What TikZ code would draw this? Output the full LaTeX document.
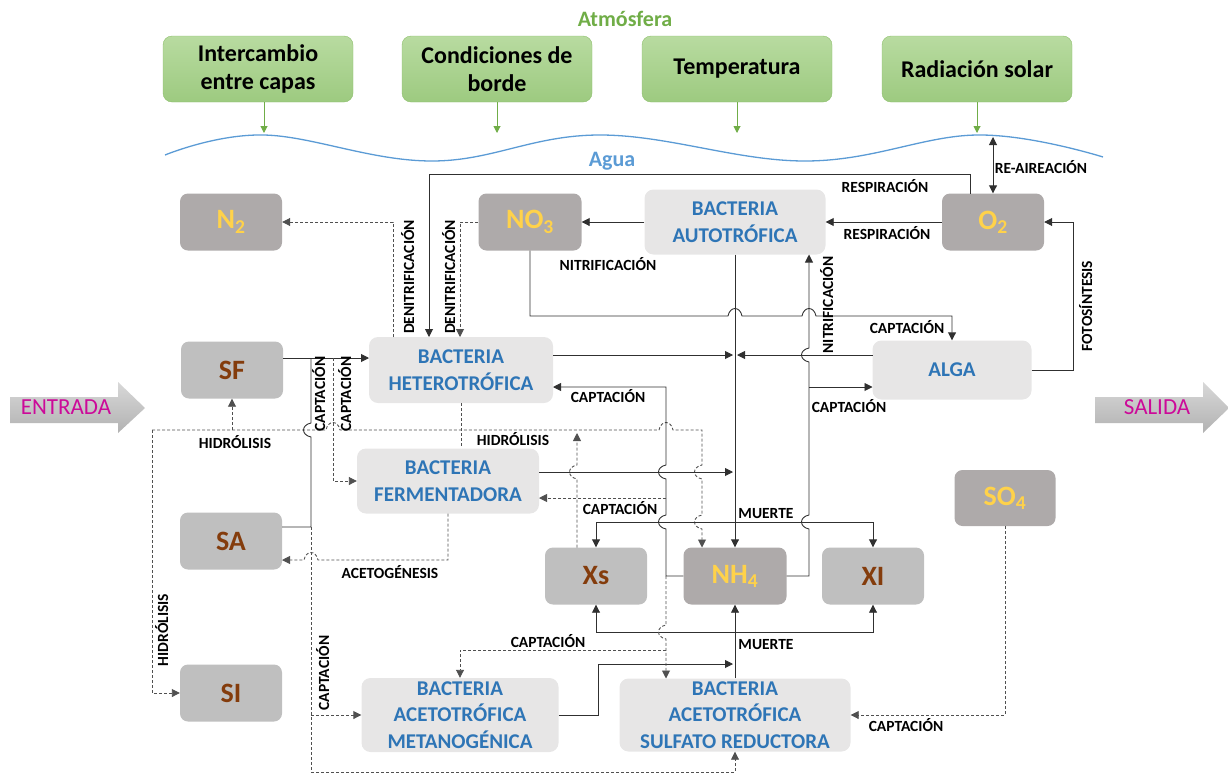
\documentclass[tikz,border=0pt]{standalone}
\usepackage{fontspec}
\setmainfont{Carlito}
\usetikzlibrary{arrows.meta}
\definecolor{lnc}{HTML}{303030}
\definecolor{dlc}{HTML}{505050}
\definecolor{grn}{HTML}{70AD47}
\definecolor{gtop}{HTML}{B8DBA0}
\definecolor{gbot}{HTML}{9DCA80}
\definecolor{gbrd}{HTML}{8DBF6C}
\definecolor{wavec}{HTML}{5B9BD5}
\definecolor{dgray}{HTML}{AEAAAA}
\definecolor{lgray}{HTML}{BFBFBF}
\definecolor{bgray}{HTML}{E7E6E6}
\definecolor{cgold}{HTML}{FFD24A}
\definecolor{cbrown}{HTML}{843C0C}
\definecolor{bblue}{HTML}{2E75B6}
\definecolor{mag}{HTML}{CC0A99}
\definecolor{arrtop}{HTML}{D8D8D8}
\definecolor{arrbot}{HTML}{B2B2B2}
\begin{document}
\begin{tikzpicture}[x=1pt,y=-1pt,
  >={Triangle[length=8pt,width=8pt]},
  ln/.style={draw=lnc,line width=0.9pt},
  dl/.style={draw=dlc,line width=0.9pt,dash pattern=on 3pt off 2pt},
  ga/.style={draw=grn,line width=1pt,-{Triangle[length=7pt,width=7pt]}},
  gbox/.style={rounded corners=9pt,draw=gbrd,top color=gtop,bottom color=gbot,minimum width=190pt,minimum height=66pt,inner sep=0pt,align=center,font=\bfseries\fontsize{24}{27.5}\selectfont},
  dbox/.style={rounded corners=8pt,fill=dgray,minimum width=102pt,minimum height=57pt,inner sep=0pt,text=cgold,font=\bfseries\fontsize{28}{30}\selectfont},
  lbox/.style={dbox,fill=lgray,text=cbrown},
  bbox/.style={rounded corners=9pt,fill=bgray,inner sep=0pt,align=center,text=bblue,font=\bfseries\fontsize{21}{26.5}\selectfont},
  lbl/.style={inner sep=0pt,text height=10pt,text depth=0pt,font=\bfseries\fontsize{15.5}{15.5}\selectfont},
]
\useasboundingbox (0,0) rectangle (1228,774);

% atmosphere
\node[gbox] (g1) at (258,69) {Intercambio\\entre capas};
\node[gbox] (g2) at (497,69) {Condiciones de\\borde};
\node[gbox] (g3) at (737,69) {Temperatura};
\node[gbox] (g4) at (977,69) {Radiación solar};
\node[font=\bfseries\fontsize{22}{22}\selectfont,text=grn] (atm) at (625,19) {Atmósfera};
\node[font=\bfseries\fontsize{22}{22}\selectfont,text=wavec] (agua) at (612,161) {Agua};
\draw[ga] ([xshift=6pt]g1.south) -- (264,133);
\draw[ga] (g2.south) -- (497,133);
\draw[ga] (g3.south) -- (737,133);
\draw[ga] (g4.south) -- (977,133);
\draw[wavec,line width=1.3pt] plot[smooth,tension=0.65] coordinates {(165,155) (264,135) (432,161) (600,135) (805,161) (977,135) (1103,157)};

% in / out arrows
\path[top color=arrtop,bottom color=arrbot] (10,397) -- (118,397) -- (118,382) -- (145,408) -- (118,433) -- (118,423) -- (10,423) -- cycle;
\node[font=\fontsize{23}{23}\selectfont,text=mag] (entrada) at (66,407) {ENTRADA};
\path[top color=arrtop,bottom color=arrbot] (1095,397) -- (1203,397) -- (1203,382) -- (1229,408) -- (1203,433) -- (1203,423) -- (1095,423) -- cycle;
\node[font=\fontsize{23}{23}\selectfont,text=mag] (salida) at (1157,407) {SALIDA};

% boxes
\node[dbox] (n2) at (231,222) {N\textsubscript{2}};
\node[dbox,minimum width=103pt] (no3) at (530,222) {NO\textsubscript{3}};
\node[bbox,minimum width=181pt,minimum height=65pt] (auto) at (735,222) {BACTERIA\\AUTOTRÓFICA};
\node[dbox] (o2) at (993,222) {O\textsubscript{2}};
\node[lbox] (sf) at (232,370) {SF};
\node[bbox,minimum width=184pt,minimum height=66pt] (het) at (461,370) {BACTERIA\\HETEROTRÓFICA};
\node[bbox,minimum width=159pt,minimum height=59pt] (alga) at (952,370) {ALGA};
\node[bbox,minimum width=182pt,minimum height=65pt] (ferm) at (448,481) {BACTERIA\\FERMENTADORA};
\node[lbox] (sa) at (231,541) {SA};
\node[lbox] (xs) at (596,576) {Xs};
\node[dbox,minimum width=103pt] (nh4) at (735,576) {NH\textsubscript{4}};
\node[lbox] (xi) at (873,576) {XI};
\node[dbox,minimum width=101pt,minimum height=56pt] (so4) at (1005,498) {SO\textsubscript{4}};
\node[lbox] (si) at (231,693) {SI};
\node[bbox,minimum width=197pt,minimum height=74pt] (meta) at (460,715) {BACTERIA\\ACETOTRÓFICA\\METANOGÉNICA};
\node[bbox,minimum width=231pt,minimum height=73pt] (sulf) at (735,715) {BACTERIA\\ACETOTRÓFICA\\SULFATO REDUCTORA};

% connectors
\draw[ln,->] (970,193.5) -- (970,174) -- (429,174) -- (429,337);
\draw[ln,->] (o2.west) -- (auto.east);
\draw[ln,->] (auto.west) -- (no3.east);
\draw[dl,->] (393,337) -- (393,222) -- (n2.east);
\draw[dl,->] (no3.west) -- (460,222) -- (460,337);
\draw[ln,<->] (993,137) -- (o2.north);
\draw[ln,->] (no3.south) -- (530,316) -- (728,316) .. controls (730,306) and (740,306) .. (742,316) -- (802,316) .. controls (804,306) and (814,306) .. (816,316) -- (952,316) -- (alga.north);
\draw[ln,->] (auto.south) -- (nh4.north);
\draw[ln,->] (553,355) -- (733,355);
\draw[ln,->] (872.5,355) -- (737,355);
\draw[ln,->] (nh4.east) -- (809,576) -- (809,529) .. controls (799,527) and (799,517) .. (809,515) -- (809,362) .. controls (799,360) and (799,350) .. (809,348) -- (809,254.5);
\draw[ln,->] (809,387) -- (872.5,387);
\draw[ln,->] (alga.east) -- (1073,370) -- (1073,222) -- (o2.east);
\draw[ln,->] (283,358) -- (369,358);
\draw[ln] (282,527) -- (311,527) -- (311,437) .. controls (301,435) and (301,425) .. (311,423) -- (311,358);
\draw[dl,->] (333,358) -- (333,481) -- (ferm.west);
\draw[dl,->] (152,430) -- (152,693) -- (si.west);
\draw[dl,->] (232,430) -- (sf.south);
\draw[dl,->] (152,430) -- (326,430) .. controls (328,420) and (338,420) .. (340,430) -- (659,430) .. controls (661,420) and (671,420) .. (673,430) -- (702,430) -- (702,465) .. controls (692,467) and (692,477) .. (702,479) -- (702,515) .. controls (692,517) and (692,527) .. (702,529) -- (702,547.5);
\draw[dl] (het.south) -- (461,448);
\draw[dl,->] (577,547.5) -- (577,479) .. controls (567,477) and (567,467) .. (577,465) -- (577,433);
\draw[ln,->] (539,472) -- (733,472);
\draw[ln,->] (nh4.west) -- (666,576) -- (666,529) .. controls (656,527) and (656,517) .. (666,515) -- (666,479) .. controls (656,477) and (656,467) .. (666,465) -- (666,387) -- (553,387);
\draw[dl,->] (666,498) -- (539,498);
\draw[ln,<->] (xs.north) -- (596,522) -- (873,522) -- (xi.north);
\draw[ln,<->] (xs.south) -- (596,632) -- (873,632) -- (xi.south);
\draw[ln,->] (sulf.north) -- (nh4.south);
\draw[ln,->] (meta.east) -- (598,715) -- (598,664) -- (733,664);
\draw[dl,->] (666,576) -- (666,625) .. controls (656,627) and (656,637) .. (666,639) -- (666,678.5);
\draw[dl,->] (666,650) -- (460,650) -- (meta.north);
\draw[dl,->] (311,527) -- (311,772) -- (735,772) -- (sulf.south);
\draw[dl,->] (311,715) -- (meta.west);
\draw[dl,->] (ferm.south) -- (448,560) -- (318,560) .. controls (316,550) and (306,550) .. (304,560) -- (282,560);
\draw[dl,->] (so4.south) -- (1005,715) -- (sulf.east);

% labels
\node[lbl] (l1) at (1041,168) {RE-AIREACIÓN};
\node[lbl] (l2) at (885,187) {RESPIRACIÓN};
\node[lbl] (l3) at (887,234) {RESPIRACIÓN};
\node[lbl] (l4) at (608,265) {NITRIFICACIÓN};
\node[lbl,rotate=90] (l5) at (409,277) {DENITRIFICACIÓN};
\node[lbl,rotate=90] (l6) at (450,277) {DENITRIFICACIÓN};
\node[lbl,rotate=90] (l7) at (828,305) {NITRIFICACIÓN};
\node[lbl,rotate=90] (l8) at (1087,306) {FOTOSÍNTESIS};
\node[lbl] (l9) at (907,328) {CAPTACIÓN};
\node[lbl] (l10) at (849,407) {CAPTACIÓN};
\node[lbl] (l11) at (608,397) {CAPTACIÓN};
\node[lbl] (l12) at (235,443) {HIDRÓLISIS};
\node[lbl] (l13) at (513,440) {HIDRÓLISIS};
\node[lbl,rotate=90] (l14) at (163,630) {HIDRÓLISIS};
\node[lbl,rotate=90] (l15) at (320,394) {CAPTACIÓN};
\node[lbl,rotate=90] (l16) at (346,394) {CAPTACIÓN};
\node[lbl] (l17) at (620,509) {CAPTACIÓN};
\node[lbl] (l18) at (390,573) {ACETOGÉNESIS};
\node[lbl] (l19) at (766,513) {MUERTE};
\node[lbl] (l20) at (766,644) {MUERTE};
\node[lbl] (l21) at (548,642) {CAPTACIÓN};
\node[lbl,rotate=90] (l22) at (324,673) {CAPTACIÓN};
\node[lbl] (l23) at (906,726) {CAPTACIÓN};
\end{tikzpicture}
\end{document}
